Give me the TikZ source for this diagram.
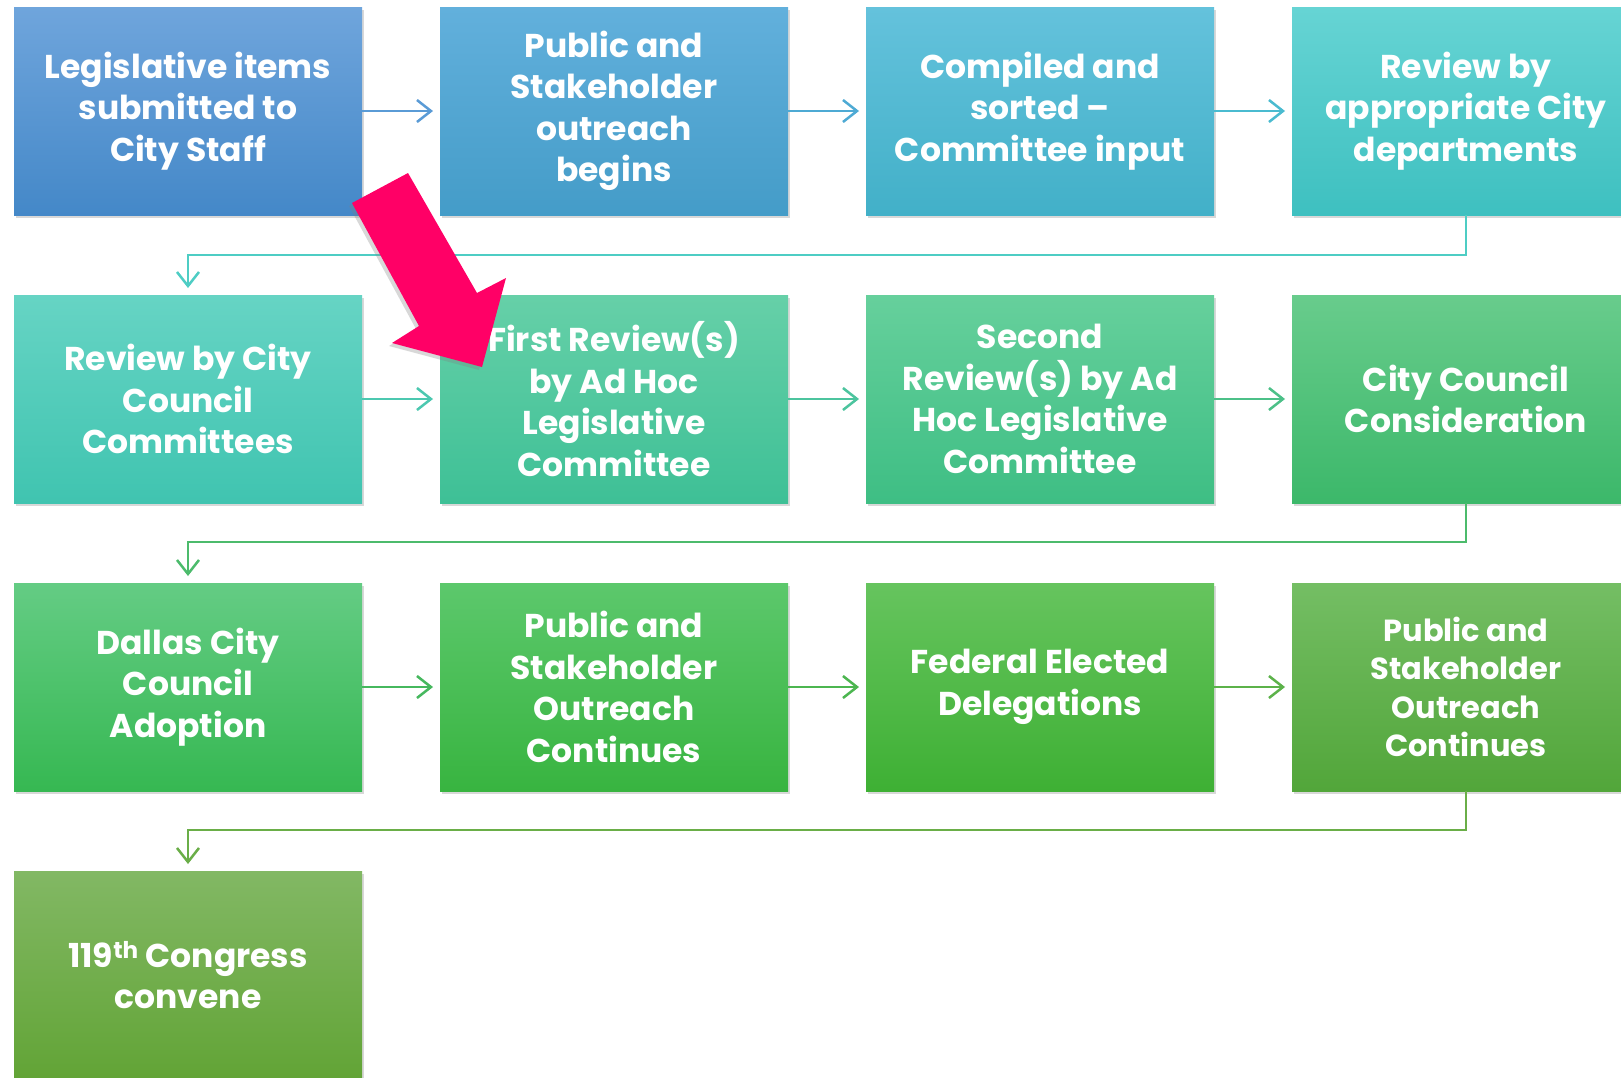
\documentclass[tikz,border=0pt]{standalone}
\usepackage{fontspec}
\setmainfont{Poppins}
\usetikzlibrary{arrows.meta,shadows}

% box colours (top / bottom of each gradient)
\definecolor{itemsT}{HTML}{6FA5DC}\definecolor{itemsB}{HTML}{4488C8}
\definecolor{outreachT}{HTML}{62B0DC}\definecolor{outreachB}{HTML}{449CC8}
\definecolor{compiledT}{HTML}{64C2DC}\definecolor{compiledB}{HTML}{42B0C8}
\definecolor{deptT}{HTML}{66D4D4}\definecolor{deptB}{HTML}{3EC0C0}
\definecolor{cmtT}{HTML}{66D4C4}\definecolor{cmtB}{HTML}{40C4B0}
\definecolor{firstT}{HTML}{66D0A8}\definecolor{firstB}{HTML}{3EC096}
\definecolor{secondT}{HTML}{66D09C}\definecolor{secondB}{HTML}{3EBE84}
\definecolor{councilT}{HTML}{68CC8C}\definecolor{councilB}{HTML}{3CB86A}
\definecolor{adoptT}{HTML}{64CC84}\definecolor{adoptB}{HTML}{36B852}
\definecolor{contT}{HTML}{5CC86C}\definecolor{contB}{HTML}{38B440}
\definecolor{fedT}{HTML}{66C45E}\definecolor{fedB}{HTML}{3EB034}
\definecolor{contbT}{HTML}{74BE64}\definecolor{contbB}{HTML}{52A63A}
\definecolor{congT}{HTML}{82B864}\definecolor{congB}{HTML}{62A436}
% connector colours
\definecolor{lnA}{HTML}{5A9BD6}\definecolor{lnB}{HTML}{4EAAD4}\definecolor{lnC}{HTML}{4ABBD0}
\definecolor{lnD}{HTML}{4ECDC4}\definecolor{lnE}{HTML}{4CC8B0}\definecolor{lnF}{HTML}{4CC49E}
\definecolor{lnG}{HTML}{4CC088}\definecolor{lnH}{HTML}{4CBB6C}\definecolor{lnI}{HTML}{46B85E}
\definecolor{lnJ}{HTML}{4CB650}\definecolor{lnK}{HTML}{5CB24A}\definecolor{lnL}{HTML}{6AAE48}
\definecolor{hotpink}{HTML}{FF0066}

\tikzset{
  stage/.style={rectangle,minimum width=348pt,minimum height=208pt,inner sep=0pt,outer sep=0pt,
    text=white,align=center,font=\fontsize{33}{41.5}\selectfont\bfseries,
    drop shadow={shadow xshift=2pt,shadow yshift=-3pt,opacity=0.3}},
  flow/.style={line width=2.5pt,-{Straight Barb[length=14pt,width=22pt]},shorten >=7pt},
}

\begin{document}
\begin{tikzpicture}[x=1pt,y=-1pt]
    \useasboundingbox (0,0) rectangle (1621,1077); % page size
    \fill[white] (0,0) rectangle (1621,1077); % background
    \clip (0,0) rectangle (1621,1077);
    % row 1
    \node[stage,top color=itemsT,bottom color=itemsB] (items) at (188,111) {Legislative items\\submitted to\\City Staff};
    \node[stage,top color=outreachT,bottom color=outreachB] (outreach) at (614,111) {Public and\\Stakeholder\\outreach\\begins};
    \node[stage,top color=compiledT,bottom color=compiledB] (compiled) at (1040,111) {Compiled and\\sorted --\\Committee input};
    \node[stage,top color=deptT,bottom color=deptB] (deptreview) at (1466,111) {Review by\\appropriate City\\departments};
    % row 2
    \node[stage,top color=cmtT,bottom color=cmtB] (cmtreview) at (188,399) {Review by City\\Council\\Committees};
    \node[stage,top color=firstT,bottom color=firstB] (firstrev) at (614,399) {First Review(s)\\by Ad Hoc\\Legislative\\Committee};
    \node[stage,top color=secondT,bottom color=secondB] (secondrev) at (1040,399) {Second\\Review(s) by Ad\\Hoc Legislative\\Committee};
    \node[stage,top color=councilT,bottom color=councilB] (council) at (1466,399) {City Council\\Consideration};
    % row 3
    \node[stage,top color=adoptT,bottom color=adoptB] (adoption) at (188,687) {Dallas City\\Council\\Adoption};
    \node[stage,top color=contT,bottom color=contB] (outcont) at (614,687) {Public and\\Stakeholder\\Outreach\\Continues};
    \node[stage,top color=fedT,bottom color=fedB] (federal) at (1040,687) {Federal Elected\\Delegations};
    \node[stage,top color=contbT,bottom color=contbB,font=\fontsize{30.5}{38.5}\selectfont\bfseries] (outcontb) at (1466,687) {Public and\\Stakeholder\\Outreach\\Continues};
    % row 4
    \node[stage,top color=congT,bottom color=congB] (congress) at (188,975) {119\textsuperscript{th} Congress\\convene};
    % connectors
    \draw[flow,lnA] (items) -- (outreach);
    \draw[flow,lnB] (outreach) -- (compiled);
    \draw[flow,lnC] (compiled) -- (deptreview);
    \draw[flow,lnD] (deptreview.south) -- ++(0,40) -| (cmtreview.north);
    \draw[flow,lnE] (cmtreview) -- (firstrev);
    \draw[flow,lnF] (firstrev) -- (secondrev);
    \draw[flow,lnG] (secondrev) -- (council);
    \draw[flow,lnH] (council.south) -- ++(0,39) -| (adoption.north);
    \draw[flow,lnI] (adoption) -- (outcont);
    \draw[flow,lnJ] (outcont) -- (federal);
    \draw[flow,lnK] (federal) -- (outcontb);
    \draw[flow,lnL] (outcontb.south) -- ++(0,39) -| (congress.north);
    % pointer arrow
    \fill[hotpink,drop shadow={shadow xshift=-3pt,shadow yshift=-3pt,opacity=0.3}]
      (352,203) -- (408,173) -- (477,293) -- (506,278) -- (482,367) -- (392,343) -- (419,326) -- cycle;
\end{tikzpicture}
\end{document}
